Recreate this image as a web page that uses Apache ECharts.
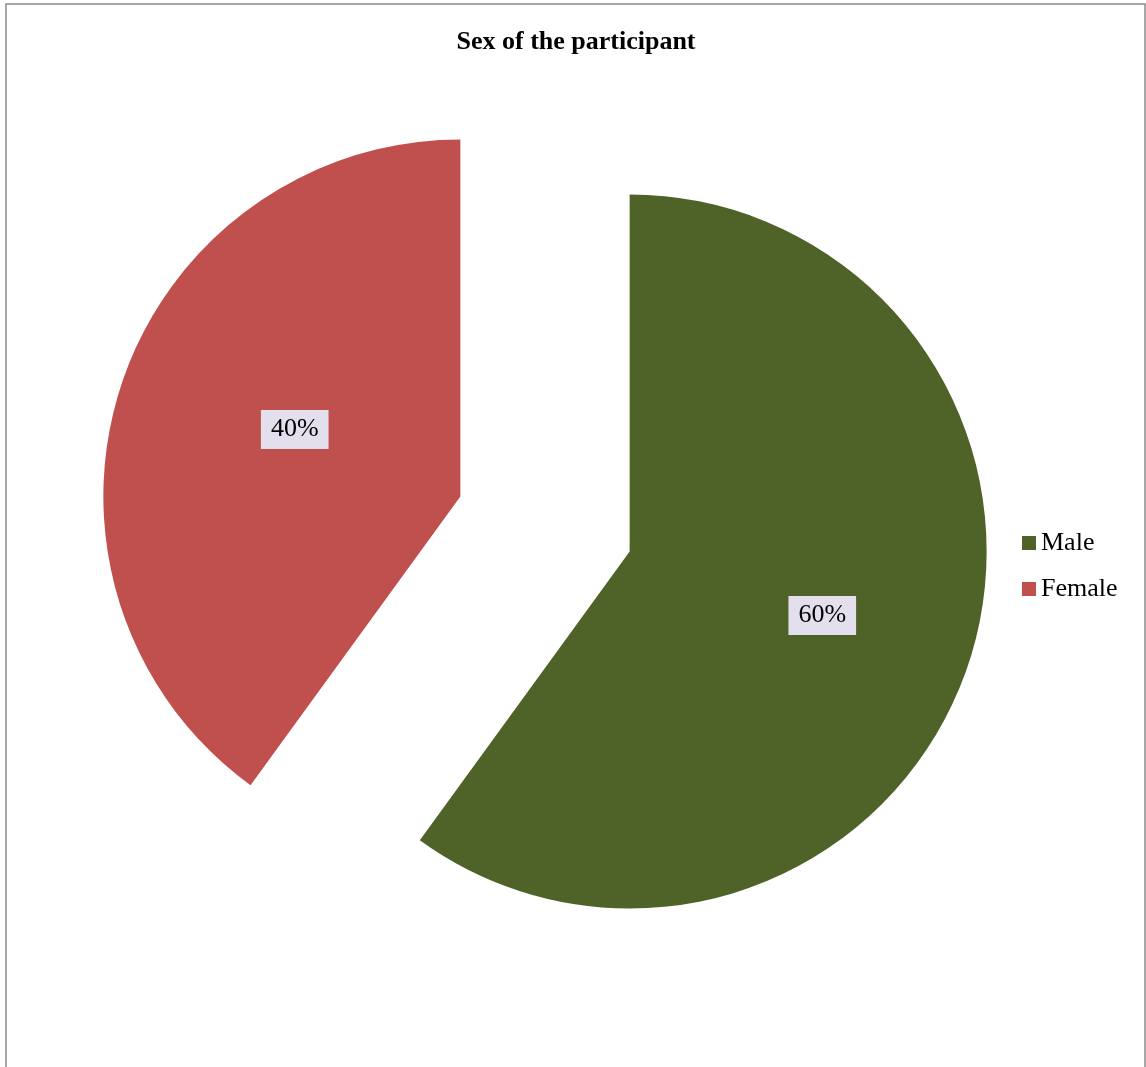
<!DOCTYPE html>
<html>
<head>
<meta charset="utf-8">
<style>
  html, body { margin: 0; padding: 0; background: #fff; }
  #chart { width: 1146px; height: 1067px; }
</style>
<script src="https://cdn.jsdelivr.net/npm/echarts@6/dist/echarts.min.js"></script>
</head>
<body>
<div id="chart"></div>
<script>
// Participant sex breakdown (percent)
const categories = ['Male', 'Female'];
const shares = [60, 40];
const colors = ['#4F6228', '#C0504D'];

// small nudges for the percentage boxes inside each slice
const labelShift = [[20, 8], [7, -11]];

const chart = echarts.init(document.getElementById('chart'));

const serif = '"Liberation Serif", "Times New Roman", serif';

chart.setOption({
  animation: false,
  backgroundColor: '#ffffff',
  title: {
    text: 'Sex of the participant',
    left: 571,
    top: 24,
    textAlign: 'center',
    textStyle: { fontFamily: serif, fontSize: 26, fontWeight: 'bold', color: '#000' }
  },
  legend: {
    orient: 'vertical',
    left: 1022,
    top: 530,
    padding: 0,
    itemWidth: 14,
    itemHeight: 14,
    itemGap: 20,
    icon: 'rect',
    selectedMode: false,
    textStyle: { fontFamily: serif, fontSize: 26, color: '#000', padding: [0, 0, 0, 0] },
    data: categories
  },
  graphic: [{
    type: 'rect',
    shape: { x: 6, y: 4, width: 1139, height: 1080 },
    style: { fill: 'none', stroke: '#8a8a8a', lineWidth: 1.5 },
    silent: true,
    z: -10
  }],
  series: [{
    type: 'pie',
    center: [545, 524],
    radius: [0, 357],
    startAngle: 90,
    clockwise: true,
    selectedMode: 'multiple',
    selectedOffset: 89,
    emphasis: { disabled: true },
    itemStyle: { borderWidth: 0 },
    label: {
      show: true,
      position: 'inside',
      formatter: '{c}%',
      fontFamily: serif,
      fontSize: 26,
      color: '#000',
      backgroundColor: '#E4DFEC',
      padding: [7, 10, 6, 10]
    },
    labelLayout: function (params) {
      const s = labelShift[params.dataIndex] || [0, 0];
      return { dx: s[0], dy: s[1] };
    },
    labelLine: { show: false },
    data: categories.map((name, i) => ({
      name: name,
      value: shares[i],
      selected: true,
      itemStyle: { color: colors[i] }
    }))
  }]
});
</script>
</body>
</html>
